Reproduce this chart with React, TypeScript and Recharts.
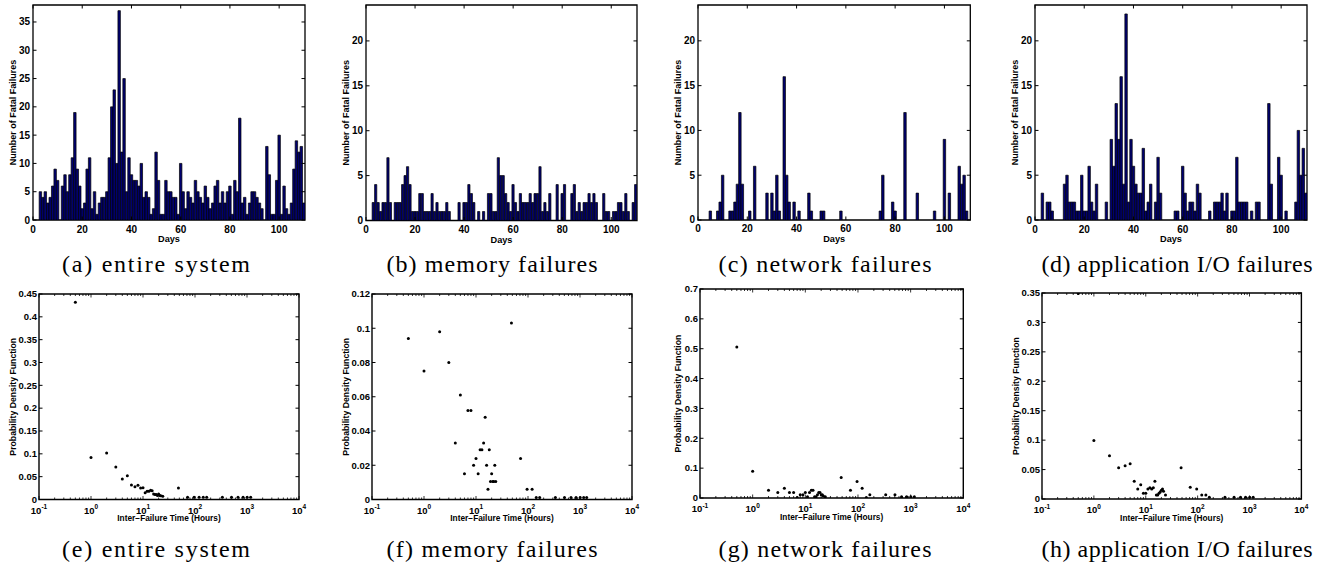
import { BarChart, Bar, ScatterChart, Scatter, XAxis, YAxis, ReferenceArea, Label } from 'recharts';

const AXIS_FONT = '"Liberation Sans", Arial, Helvetica, sans-serif';
const CAPTION_FONT = '"Liberation Serif", "Times New Roman", serif';

// ---- top row: fatal failures per day ----
const days = Array.from({ length: 110 }, (_, i) => i + 1);
const dayMax = 110.5;
const dayTicks = [0, 20, 40, 60, 80, 100];

const allFailures = [
  0, 0, 5, 4, 5, 3, 4, 6, 9, 7,
  0, 6, 8, 5, 8, 11, 19, 9, 6, 2,
  3, 9, 11, 2, 5, 1, 3, 4, 4, 5,
  11, 20, 23, 10, 37, 12, 25, 5, 11, 8,
  7, 7, 6, 10, 4, 5, 4, 1, 2, 12,
  7, 1, 1, 7, 5, 5, 4, 4, 1, 10,
  5, 2, 5, 4, 3, 7, 5, 4, 3, 6,
  4, 2, 3, 6, 7, 3, 5, 3, 5, 6,
  1, 7, 5, 18, 3, 4, 1, 3, 5, 5,
  4, 3, 2, 0, 13, 8, 1, 1, 7, 15,
  1, 6, 2, 1, 3, 9, 14, 12, 13, 3,
];

const memoryFailures = [
  0, 0, 2, 4, 2, 1, 2, 2, 7, 2,
  0, 2, 2, 2, 4, 5, 6, 4, 1, 1,
  1, 3, 3, 1, 1, 1, 3, 1, 2, 1,
  1, 1, 2, 1, 0, 0, 0, 2, 0, 2,
  2, 4, 3, 2, 0, 1, 0, 1, 0, 3,
  3, 1, 1, 7, 5, 5, 3, 2, 1, 4,
  2, 1, 3, 2, 2, 2, 3, 2, 3, 3,
  6, 1, 2, 1, 3, 0, 0, 4, 0, 3,
  4, 0, 0, 3, 4, 1, 2, 1, 2, 2,
  3, 2, 3, 2, 0, 0, 3, 1, 1, 0,
  1, 1, 2, 2, 1, 3, 1, 0, 2, 4,
];

const networkFailures = [
  0, 0, 0, 0, 1, 0, 0, 1, 2, 5,
  0, 0, 1, 1, 2, 4, 12, 4, 0, 0,
  1, 0, 6, 0, 0, 0, 0, 3, 0, 3,
  1, 5, 1, 0, 16, 5, 2, 0, 2, 0,
  1, 0, 0, 0, 3, 1, 0, 0, 0, 1,
  1, 0, 0, 0, 0, 0, 0, 1, 0, 0,
  0, 0, 0, 0, 0, 0, 0, 0, 0, 0,
  0, 0, 0, 1, 5, 0, 0, 0, 2, 1,
  0, 0, 0, 12, 0, 0, 0, 0, 3, 0,
  0, 0, 0, 0, 0, 1, 0, 0, 0, 9,
  0, 3, 0, 0, 0, 6, 4, 5, 1, 0,
];

const appIoFailures = [
  0, 0, 3, 0, 2, 2, 1, 0, 0, 0,
  0, 4, 5, 2, 2, 2, 1, 1, 5, 1,
  1, 6, 2, 1, 4, 0, 0, 0, 2, 0,
  9, 6, 13, 9, 16, 4, 23, 2, 9, 6,
  4, 3, 3, 8, 1, 2, 4, 0, 2, 7,
  3, 0, 0, 0, 0, 0, 1, 1, 0, 6,
  3, 1, 2, 2, 1, 4, 3, 0, 0, 0,
  1, 0, 2, 2, 2, 3, 1, 3, 0, 1,
  1, 7, 2, 2, 2, 2, 0, 1, 0, 2,
  2, 0, 0, 0, 13, 4, 0, 0, 7, 5,
  0, 1, 0, 0, 0, 2, 10, 5, 8, 3,
];

const countTicksAll = [0, 5, 10, 15, 20, 25, 30, 35];
const countTicksSub = [0, 5, 10, 15, 20];

// ---- bottom row: PDF of inter-failure time ----
const hourDecades = [0.1, 1, 10, 100, 1000, 10000];
const hourExponents = ['-1', '0', '1', '2', '3', '4'];
const minorMultipliers = [2, 3, 4, 5, 6, 7, 8, 9];
const hourTicks = [
  ...hourDecades,
  ...hourDecades.slice(0, -1).flatMap((d) => minorMultipliers.map((m) => m * d)),
];

const hoursAll = [0.5, 1, 2, 3, 4, 5, 6, 7, 8, 9, 10, 11, 12, 13, 14, 15, 16, 17, 18, 19, 20, 21, 22, 24, 48, 72, 96, 120, 144, 168, 336, 504, 672, 840, 1008, 1176];
const pdfAll = [0.432, 0.092, 0.102, 0.071, 0.045, 0.052, 0.032, 0.028, 0.031, 0.025, 0.026, 0.015, 0.018, 0.018, 0.02, 0.019, 0.012, 0.011, 0.011, 0.009, 0.012, 0.009, 0.008, 0.007, 0.025, 0.005, 0.005, 0.005, 0.005, 0.005, 0.005, 0.005, 0.005, 0.005, 0.005, 0.005];

const hoursMemory = [0.5, 1, 2, 3, 4, 5, 6, 7, 8, 9, 10, 11, 12, 13, 14, 15, 16, 17, 18, 19, 20, 21, 22, 23, 24, 48, 72, 96, 120, 144, 168, 336, 504, 672, 840, 1008, 1176, 1344];
const pdfMemory = [0.094, 0.075, 0.098, 0.08, 0.033, 0.061, 0.015, 0.052, 0.052, 0.02, 0.024, 0.015, 0.029, 0.029, 0.033, 0.048, 0.02, 0.006, 0.029, 0.0105, 0.015, 0.0105, 0.0105, 0.02, 0.0105, 0.103, 0.024, 0.006, 0.006, 0.0012, 0.0012, 0.0012, 0.0012, 0.0012, 0.0012, 0.0012, 0.0012, 0.0012];

const hoursNetwork = [0.5, 1, 2, 3, 4, 5, 6, 7, 8, 9, 10, 11, 12, 13, 14, 15, 16, 17, 18, 19, 20, 21, 22, 24, 48, 72, 96, 120, 144, 168, 336, 504, 672, 840, 1008, 1176];
const pdfNetwork = [0.506, 0.09, 0.026, 0.018, 0.033, 0.018, 0.018, 0.002, 0.011, 0.011, 0.018, 0.004, 0.018, 0.026, 0.026, 0.004, 0.004, 0.011, 0.018, 0.018, 0.011, 0.011, 0.007, 0.004, 0.069, 0.026, 0.055, 0.033, 0.002, 0.011, 0.011, 0.011, 0.004, 0.004, 0.004, 0.004];

const hoursAppIo = [0.5, 1, 2, 3, 4, 5, 6, 7, 8, 9, 10, 11, 12, 13, 14, 15, 16, 17, 18, 19, 20, 21, 22, 24, 48, 72, 96, 120, 144, 168, 336, 504, 672, 840, 1008, 1176];
const pdfAppIo = [0.349, 0.0995, 0.0735, 0.053, 0.0566, 0.06, 0.03, 0.017, 0.024, 0.0096, 0.0096, 0.017, 0.019, 0.017, 0.019, 0.03, 0.007, 0.007, 0.0096, 0.012, 0.015, 0.017, 0.013, 0.007, 0.053, 0.02, 0.017, 0.007, 0.007, 0.003, 0.003, 0.003, 0.003, 0.003, 0.003, 0.003];

const pdfTicksAll = [0, 0.05, 0.1, 0.15, 0.2, 0.25, 0.3, 0.35, 0.4, 0.45];
const pdfTicksMemory = [0, 0.02, 0.04, 0.06, 0.08, 0.1, 0.12];
const pdfTicksNetwork = [0, 0.1, 0.2, 0.3, 0.4, 0.5, 0.6, 0.7];
const pdfTicksAppIo = [0, 0.05, 0.1, 0.15, 0.2, 0.25, 0.3, 0.35];

const captionsTop = ['(a) entire system', '(b) memory failures', '(c) network failures', '(d) application I/O failures'];
const captionsBottom = ['(e) entire system', '(f) memory failures', '(g) network failures', '(h) application I/O failures'];
const captionCenters = [156, 492, 825, 1177];
const captionWidths = [188, 211, 213, 271];

const fmt = (v: number) => String(Number(v.toFixed(3)));

const tickText = { fontFamily: AXIS_FONT, fontWeight: 700, fill: '#000' };

interface BarPanelProps {
  left: number;
  top: number;
  w: number;
  h: number;
  counts: number[];
  yMax: number;
  yTicks: number[];
}

function BarPanel({ left, top, w, h, counts, yMax, yTicks }: BarPanelProps) {
  const YW = 40;
  const XH = 38;
  const MT = 4;
  const MR = 8;
  const data = days.map((d, i) => ({ day: d, count: counts[i] }));
  const rightEdge = YW + w;
  return (
    <div style={{ position: 'absolute', left: left - YW, top: top - MT }}>
      <BarChart width={YW + w + MR} height={MT + h + XH} data={data} margin={{ top: MT, right: MR, left: 0, bottom: 0 }}>
        <XAxis
          dataKey="day"
          type="number"
          domain={[0, dayMax]}
          ticks={dayTicks}
          interval={0}
          allowDataOverflow
          height={XH}
          axisLine={false}
          tickLine={false}
          tickSize={0}
          tickMargin={0}
          tick={(p: any) => (
            <g>
              <line x1={p.x} y1={p.y} x2={p.x} y2={p.y - 3.5} stroke="#000" />
              <line x1={p.x} y1={MT} x2={p.x} y2={MT + 3.5} stroke="#000" />
              <text x={p.x} y={p.y + 9} dy="0.35em" textAnchor="middle" fontSize={10} {...tickText}>
                {p.payload.value}
              </text>
            </g>
          )}
        >
          <Label value="Days" position="center" fontSize={9.2} fontWeight={700} fontFamily={AXIS_FONT} fill="#000" />
        </XAxis>
        <YAxis
          type="number"
          domain={[0, yMax]}
          ticks={yTicks}
          interval={0}
          allowDataOverflow
          width={YW}
          axisLine={false}
          tickLine={false}
          tickSize={0}
          tickMargin={0}
          tick={(p: any) => (
            <g>
              <line x1={p.x} y1={p.y} x2={p.x + 3.5} y2={p.y} stroke="#000" />
              <line x1={rightEdge} y1={p.y} x2={rightEdge - 3.5} y2={p.y} stroke="#000" />
              <text x={p.x - 3} y={p.y} dy="0.35em" textAnchor="end" fontSize={10} {...tickText}>
                {p.payload.value}
              </text>
            </g>
          )}
        >
          <Label value="Number of Fatal Failures" angle={-90} position="center" fontSize={9} fontWeight={700} fontFamily={AXIS_FONT} fill="#000" />
        </YAxis>
        <Bar dataKey="count" fill="#000070" stroke="#000" strokeWidth={0.7} barSize={2.46} isAnimationActive={false} />
        <ReferenceArea x1={0} x2={dayMax} y1={0} y2={yMax} fill="none" stroke="#000" strokeWidth={1.3} />
      </BarChart>
    </div>
  );
}

interface PdfPanelProps {
  left: number;
  top: number;
  w: number;
  h: number;
  yw: number;
  hours: number[];
  pdf: number[];
  yMax: number;
  yTicks: number[];
}

function PdfPanel({ left, top, w, h, yw, hours, pdf, yMax, yTicks }: PdfPanelProps) {
  const XH = 36;
  const MT = 6;
  const MR = 14;
  const data = hours.map((hr, i) => ({ hours: hr, pdf: pdf[i] }));
  const rightEdge = yw + w;
  return (
    <div style={{ position: 'absolute', left: left - yw, top: top - MT }}>
      <ScatterChart width={yw + w + MR} height={MT + h + XH} margin={{ top: MT, right: MR, left: 0, bottom: 0 }}>
        <XAxis
          dataKey="hours"
          type="number"
          scale="log"
          domain={[0.1, 10000]}
          ticks={hourTicks}
          interval={0}
          allowDataOverflow
          height={XH}
          axisLine={false}
          tickLine={false}
          tickSize={0}
          tickMargin={0}
          tick={(p: any) => {
            const idx = hourDecades.indexOf(p.payload.value);
            const len = idx >= 0 ? 3.5 : 2;
            return (
              <g>
                <line x1={p.x} y1={p.y} x2={p.x} y2={p.y - len} stroke="#000" strokeWidth={0.8} />
                <line x1={p.x} y1={MT} x2={p.x} y2={MT + len} stroke="#000" strokeWidth={0.8} />
                {idx >= 0 && (
                  <text x={p.x} y={p.y + 11} dy="0.35em" textAnchor="middle" fontSize={9.5} {...tickText}>
                    <tspan>10</tspan>
                    <tspan dy={-4.5} fontSize={6.5}>{hourExponents[idx]}</tspan>
                  </text>
                )}
              </g>
            );
          }}
        >
          <Label value="Inter−Failure Time (Hours)" position="center" dy={1} fontSize={8.3} fontWeight={700} fontFamily={AXIS_FONT} fill="#000" />
        </XAxis>
        <YAxis
          dataKey="pdf"
          type="number"
          domain={[0, yMax]}
          ticks={yTicks}
          interval={0}
          allowDataOverflow
          width={yw}
          axisLine={false}
          tickLine={false}
          tickSize={0}
          tickMargin={0}
          tick={(p: any) => (
            <g>
              <line x1={p.x} y1={p.y} x2={p.x + 3.5} y2={p.y} stroke="#000" />
              <line x1={rightEdge} y1={p.y} x2={rightEdge - 3.5} y2={p.y} stroke="#000" />
              <text x={p.x - 2} y={p.y} dy="0.35em" textAnchor="end" fontSize={9.5} {...tickText}>
                {fmt(p.payload.value)}
              </text>
            </g>
          )}
        >
          <Label value="Probability Density Function" angle={-90} position="center" fontSize={8.7} fontWeight={700} fontFamily={AXIS_FONT} fill="#000" />
        </YAxis>
        <Scatter
          data={data}
          isAnimationActive={false}
          shape={(p: any) => <circle cx={p.cx} cy={p.cy} r={1.5} fill="#000" />}
        />
        <ReferenceArea x1={0.1} x2={10000} y1={0} y2={yMax} fill="none" stroke="#000" strokeWidth={1.4} />
      </ScatterChart>
    </div>
  );
}

export default function App() {
  return (
    <div style={{ position: 'absolute', left: 0, top: 0, width: 1323, height: 563, background: '#fff', overflow: 'hidden' }}>
      <BarPanel left={33} top={5} w={272} h={215} counts={allFailures} yMax={38} yTicks={countTicksAll} />
      <BarPanel left={365.7} top={5} w={271} h={215.5} counts={memoryFailures} yMax={24} yTicks={countTicksSub} />
      <BarPanel left={697.7} top={5} w={272.3} h={215} counts={networkFailures} yMax={24} yTicks={countTicksSub} />
      <BarPanel left={1035.3} top={5} w={272} h={215} counts={appIoFailures} yMax={24} yTicks={countTicksSub} />

      <PdfPanel left={39} top={293.5} w={260} h={205.5} yw={53} hours={hoursAll} pdf={pdfAll} yMax={0.45} yTicks={pdfTicksAll} />
      <PdfPanel left={371.7} top={293.5} w={260} h={205.5} yw={53} hours={hoursMemory} pdf={pdfMemory} yMax={0.12} yTicks={pdfTicksMemory} />
      <PdfPanel left={700} top={289} w={263.3} h={209} yw={44} hours={hoursNetwork} pdf={pdfNetwork} yMax={0.7} yTicks={pdfTicksNetwork} />
      <PdfPanel left={1042.3} top={293} w={259.4} h={206} yw={52} hours={hoursAppIo} pdf={pdfAppIo} yMax={0.35} yTicks={pdfTicksAppIo} />

      <svg width={1323} height={563} style={{ position: 'absolute', left: 0, top: 0, pointerEvents: 'none' }}>
        {captionsTop.map((c, i) => (
          <text key={c} x={captionCenters[i]} y={272} textAnchor="middle" fontFamily={CAPTION_FONT} fontSize={24} textLength={captionWidths[i]} lengthAdjust="spacing" fill="#000">
            {c}
          </text>
        ))}
        {captionsBottom.map((c, i) => (
          <text key={c} x={captionCenters[i]} y={557} textAnchor="middle" fontFamily={CAPTION_FONT} fontSize={24} textLength={captionWidths[i]} lengthAdjust="spacing" fill="#000">
            {c}
          </text>
        ))}
      </svg>
    </div>
  );
}
